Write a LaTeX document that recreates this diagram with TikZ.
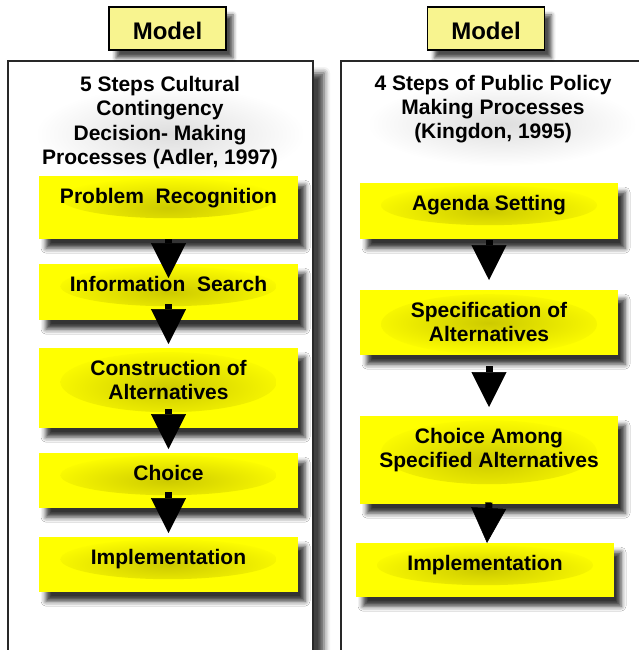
\documentclass[tikz,border=0pt]{standalone}
\usepackage{fontspec}
\setmainfont{Liberation Sans}
\usetikzlibrary{arrows.meta,shadows.blur}

\definecolor{modelyellow}{RGB}{248,244,143}
\definecolor{stepyellow}{RGB}{255,255,0}
\definecolor{haze}{RGB}{205,202,0}
\definecolor{frame}{RGB}{40,40,40}

\tikzset{
  panel/.style={draw=frame, line width=1.5pt, fill=white,
    blur shadow={shadow xshift=11pt, shadow yshift=-12pt,
      shadow blur radius=6pt, shadow opacity=75}},
  modelbox/.style={draw=black, line width=1.5pt, fill=modelyellow,
    minimum width=117pt, minimum height=43pt, inner sep=0pt,
    text height=23pt, text depth=0pt,
    font=\bfseries\fontsize{24}{28}\selectfont,
    blur shadow={shadow xshift=7pt, shadow yshift=-8pt,
      shadow blur radius=4pt, shadow opacity=70}},
  paneltitle/.style={align=center, inner sep=0pt,
    font=\bfseries\fontsize{21}{24}\selectfont},
  stepbox/.style={fill=stepyellow, anchor=north, align=center,
    minimum width=259pt, inner xsep=0pt, inner ysep=12pt,
    text height=15pt, font=\bfseries\fontsize{21}{24}\selectfont,
    blur shadow={shadow xshift=7pt, shadow yshift=-9pt,
      shadow blur radius=5pt, shadow opacity=80}},
  % darker glow behind the step text, #1 = drop of its middle, #2 = half height
  glow/.style 2 args={path picture={
    \shade[inner color=haze, outer color=stepyellow]
      ([yshift=-#1]path picture bounding box.north) ellipse (108pt and #2);}},
  flow/.style={line width=7pt,
    -{Triangle[length=35pt,width=35pt,line width=0.5pt,fill=black]}}
}

\begin{document}
\begin{tikzpicture}[x=1pt,y=-1pt]
  \useasboundingbox (0,0) rectangle (639,650);

  % 1. The two panels
  \path[panel] (8,61) rectangle (313,662);
  \path[panel] (341,61) rectangle (648,662);

  % soft grey under the headings
  \shade[inner color=black!13, outer color=white] (170,134) ellipse (135pt and 48pt);
  \shade[inner color=black!13, outer color=white] (502,124) ellipse (135pt and 42pt);

  % 2. Model tags on top
  \node[modelbox] (m1) at (167.5,28.5) {Model};
  \node[modelbox] (m2) at (486,28.5) {Model};

  % 3. Panel headings (base = last line)
  \node[paneltitle, anchor=base] (t1) at (160,164)
    {5 Steps Cultural\\Contingency\\Decision- Making\\Processes (Adler, 1997)};
  \node[paneltitle, anchor=base] (t2) at (493,139)
    {4 Steps of Public Policy\\Making Processes\\(Kingdon, 1995)};

  % 4. Adler steps
  \node[stepbox, glow={22pt}{20pt}, text depth=24pt] (p1) at (168.5,176) {Problem\ \ Recognition};
  \node[stepbox, glow={22pt}{20pt}, text depth=17pt] (p2) at (168.5,264) {Information\ \ Search};
  \node[stepbox, glow={34pt}{30pt}, text height=39pt, text depth=17pt] (p3) at (168.5,348) {Construction of\\Alternatives};
  \node[stepbox, glow={22pt}{20pt}, text depth=16pt] (p4) at (168.5,453) {Choice};
  \node[stepbox, glow={22pt}{20pt}, text depth=16pt] (p5) at (168.5,537) {Implementation};

  % 5. Kingdon steps
  \node[stepbox, glow={22pt}{20pt}, minimum width=258pt, text depth=17pt] (q1) at (489,183) {Agenda Setting};
  \node[stepbox, glow={34pt}{30pt}, minimum width=258pt, text height=39pt, text depth=2pt] (q2) at (489,290) {Specification of\\Alternatives};
  \node[stepbox, glow={36pt}{32pt}, minimum width=258pt, text height=39pt, text depth=25pt] (q3) at (489,416) {Choice Among\\Specified Alternatives};
  \node[stepbox, glow={22pt}{20pt}, minimum width=258pt, text depth=15pt] (q4) at (485,543) {Implementation};

  % 6. Arrows between the steps
  \draw[flow] (p1.south) -- ([yshift=-14pt]p2.north);
  \draw[flow] ([yshift=16pt]p2.south) -- ([yshift=4pt]p3.north);
  \draw[flow] ([yshift=19pt]p3.south) -- ([yshift=4pt]p4.north);
  \draw[flow] ([yshift=16pt]p4.south) -- ([yshift=4pt]p5.north);

  \draw[flow] ([yshift=-1pt]q1.south) -- ([yshift=10pt]q2.north);
  \draw[flow] ([yshift=-11pt]q2.south) -- ([yshift=9pt]q3.north);
  \draw[flow] ([yshift=2pt]q3.south) -- ([xshift=2pt]q4.north);
\end{tikzpicture}
\end{document}
